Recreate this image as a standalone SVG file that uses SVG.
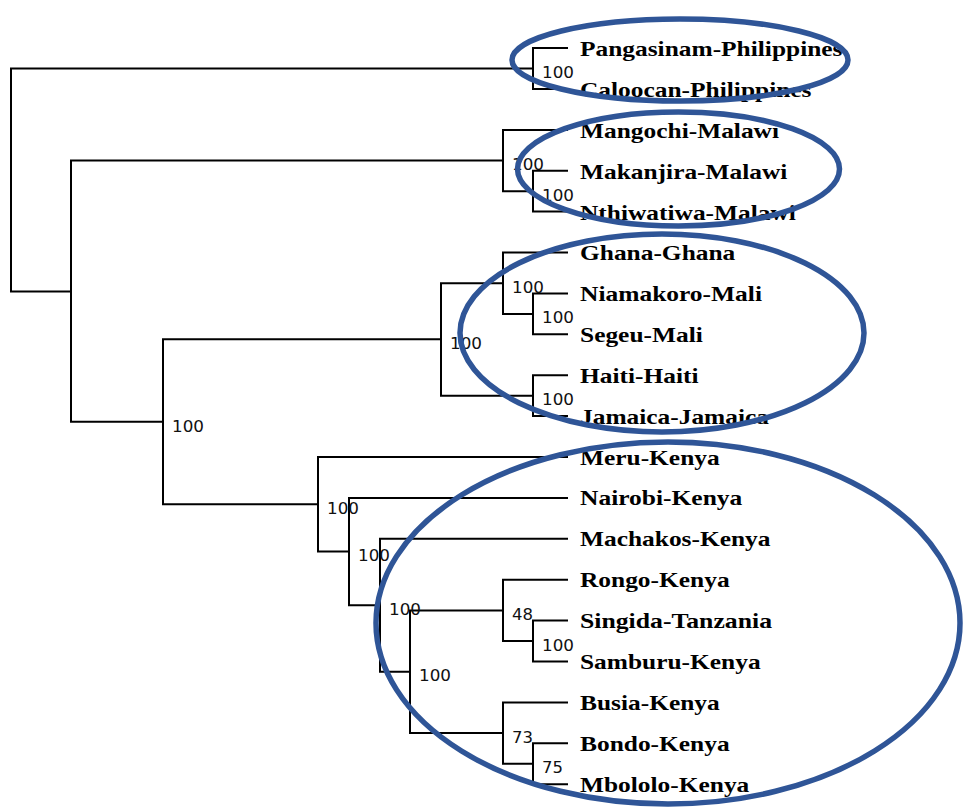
<svg xmlns="http://www.w3.org/2000/svg" width="963" height="809" viewBox="0 0 963 809">
<style>
.br{fill:none;stroke:#000;stroke-width:2;stroke-linecap:square}
.tip{font-family:"Liberation Serif","Times New Roman",serif;font-weight:bold;font-size:21px;fill:#000}
.bs{font-family:"DejaVu Sans",Verdana,sans-serif;font-size:15.5px;fill:#111}
.grp{fill:none;stroke:#2F5597;stroke-width:5.5}
</style>
<rect width="963" height="809" fill="#fff"/>
<g id="connectors">
<path class="br" d="M11 68.5V291.5M11 68.5H533M11 291.5H71"/>
<path class="br" d="M533 48V89M533 48H567M533 89H567"/>
<path class="br" d="M71 160.5V421.8M71 160.5H503M71 421.8H163"/>
<path class="br" d="M503 130V191.2M503 130H567M503 191.2H533"/>
<path class="br" d="M533 170.7V211.6M533 170.7H567M533 211.6H567"/>
<path class="br" d="M163 339.3V504.3M163 339.3H441M163 504.3H318"/>
<path class="br" d="M441 283.2V395.7M441 283.2H503M441 395.7H533"/>
<path class="br" d="M503 252.5V313.9M503 252.5H567M503 313.9H533"/>
<path class="br" d="M533 293.4V334.3M533 293.4H567M533 334.3H567"/>
<path class="br" d="M533 375.2V416.1M533 375.2H567M533 416.1H567"/>
<path class="br" d="M318 457V551.6M318 457H567M318 551.6H349"/>
<path class="br" d="M349 497.9V605.3M349 497.9H567M349 605.3H380"/>
<path class="br" d="M380 538.8V671.7M380 538.8H567M380 671.7H410"/>
<path class="br" d="M410 610.4V733.1M410 610.4H503M410 733.1H503"/>
<path class="br" d="M503 579.7V641M503 579.7H567M503 641H533"/>
<path class="br" d="M533 620.6V661.5M533 620.6H567M533 661.5H567"/>
<path class="br" d="M503 702.4V763.8M503 702.4H567M503 763.8H533"/>
<path class="br" d="M533 743.3V784.2M533 743.3H567M533 784.2H567"/>
</g>
<g id="support">
<text class="bs" x="542" y="78" textLength="32" lengthAdjust="spacingAndGlyphs">100</text>
<text class="bs" x="512" y="170" textLength="32" lengthAdjust="spacingAndGlyphs">100</text>
<text class="bs" x="542" y="201" textLength="32" lengthAdjust="spacingAndGlyphs">100</text>
<text class="bs" x="450" y="349" textLength="32" lengthAdjust="spacingAndGlyphs">100</text>
<text class="bs" x="512" y="292.7" textLength="32" lengthAdjust="spacingAndGlyphs">100</text>
<text class="bs" x="542" y="323.4" textLength="32" lengthAdjust="spacingAndGlyphs">100</text>
<text class="bs" x="542" y="405" textLength="32" lengthAdjust="spacingAndGlyphs">100</text>
<text class="bs" x="172" y="431.5" textLength="32" lengthAdjust="spacingAndGlyphs">100</text>
<text class="bs" x="327" y="514" textLength="32" lengthAdjust="spacingAndGlyphs">100</text>
<text class="bs" x="358" y="561" textLength="32" lengthAdjust="spacingAndGlyphs">100</text>
<text class="bs" x="389" y="615" textLength="32" lengthAdjust="spacingAndGlyphs">100</text>
<text class="bs" x="419" y="681" textLength="32" lengthAdjust="spacingAndGlyphs">100</text>
<text class="bs" x="512" y="620" textLength="21" lengthAdjust="spacingAndGlyphs">48</text>
<text class="bs" x="542" y="650.5" textLength="32" lengthAdjust="spacingAndGlyphs">100</text>
<text class="bs" x="512" y="742.6" textLength="21" lengthAdjust="spacingAndGlyphs">73</text>
<text class="bs" x="542" y="773" textLength="21" lengthAdjust="spacingAndGlyphs">75</text>
</g>
<g id="leaf-pangasinam"><text class="tip" x="580" y="55.5" textLength="262.5" lengthAdjust="spacingAndGlyphs">Pangasinam-Philippines</text></g>
<g id="leaf-caloocan"><text class="tip" x="580" y="96.5" textLength="231.5" lengthAdjust="spacingAndGlyphs">Caloocan-Philippines</text></g>
<g id="leaf-mangochi"><text class="tip" x="580" y="137.5" textLength="199" lengthAdjust="spacingAndGlyphs">Mangochi-Malawi</text></g>
<g id="leaf-makanjira"><text class="tip" x="580" y="178.5" textLength="207.4" lengthAdjust="spacingAndGlyphs">Makanjira-Malawi</text></g>
<g id="leaf-nthiwatiwa"><text class="tip" x="580" y="219.5" textLength="215.9" lengthAdjust="spacingAndGlyphs">Nthiwatiwa-Malawi</text></g>
<g id="leaf-ghana"><text class="tip" x="580" y="260" textLength="155.3" lengthAdjust="spacingAndGlyphs">Ghana-Ghana</text></g>
<g id="leaf-niamakoro"><text class="tip" x="580" y="301" textLength="182" lengthAdjust="spacingAndGlyphs">Niamakoro-Mali</text></g>
<g id="leaf-segeu"><text class="tip" x="580" y="341.8" textLength="122.8" lengthAdjust="spacingAndGlyphs">Segeu-Mali</text></g>
<g id="leaf-haiti"><text class="tip" x="580" y="382.7" textLength="118.5" lengthAdjust="spacingAndGlyphs">Haiti-Haiti</text></g>
<g id="leaf-jamaica"><text class="tip" x="580" y="423.6" textLength="189" lengthAdjust="spacingAndGlyphs">Jamaica-Jamaica</text></g>
<g id="leaf-meru"><text class="tip" x="580" y="464.5" textLength="139.7" lengthAdjust="spacingAndGlyphs">Meru-Kenya</text></g>
<g id="leaf-nairobi"><text class="tip" x="580" y="505.4" textLength="162.3" lengthAdjust="spacingAndGlyphs">Nairobi-Kenya</text></g>
<g id="leaf-machakos"><text class="tip" x="580" y="546.3" textLength="190.5" lengthAdjust="spacingAndGlyphs">Machakos-Kenya</text></g>
<g id="leaf-rongo"><text class="tip" x="580" y="587.2" textLength="149.6" lengthAdjust="spacingAndGlyphs">Rongo-Kenya</text></g>
<g id="leaf-singida"><text class="tip" x="580" y="628.1" textLength="192" lengthAdjust="spacingAndGlyphs">Singida-Tanzania</text></g>
<g id="leaf-samburu"><text class="tip" x="580" y="669" textLength="180.6" lengthAdjust="spacingAndGlyphs">Samburu-Kenya</text></g>
<g id="leaf-busia"><text class="tip" x="580" y="709.9" textLength="139.7" lengthAdjust="spacingAndGlyphs">Busia-Kenya</text></g>
<g id="leaf-bondo"><text class="tip" x="580" y="750.8" textLength="149.6" lengthAdjust="spacingAndGlyphs">Bondo-Kenya</text></g>
<g id="leaf-mbololo"><text class="tip" x="580" y="791.7" textLength="169.3" lengthAdjust="spacingAndGlyphs">Mbololo-Kenya</text></g>
<g id="group-philippines"><ellipse class="grp" cx="680" cy="60" rx="168" ry="41"/></g>
<g id="group-malawi"><ellipse class="grp" cx="678.5" cy="169" rx="161" ry="57"/></g>
<g id="group-westafrica"><ellipse class="grp" cx="662" cy="333" rx="202" ry="99"/></g>
<g id="group-kenya"><ellipse class="grp" cx="668" cy="623" rx="292" ry="181"/></g>
</svg>
